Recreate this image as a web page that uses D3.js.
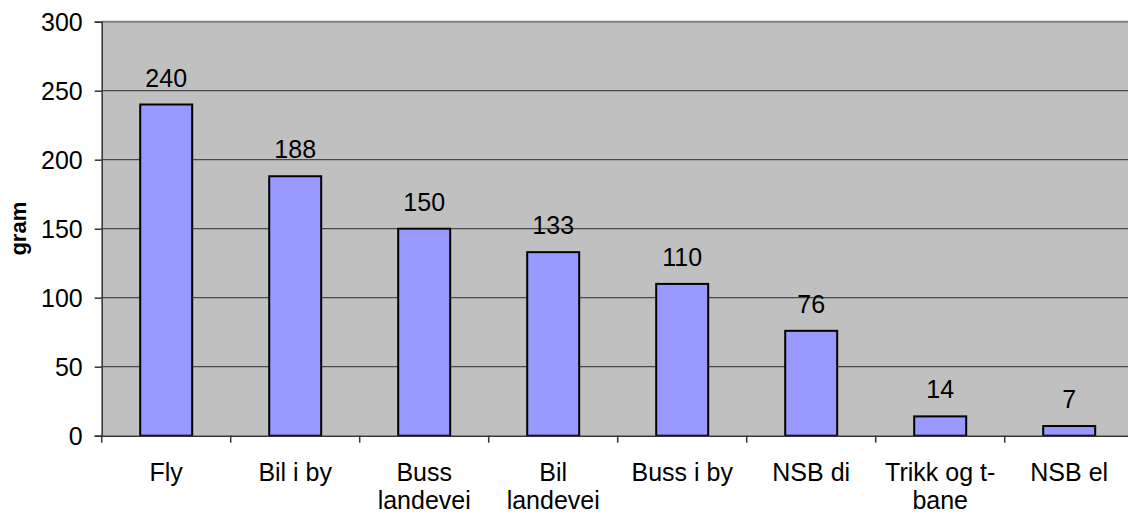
<!DOCTYPE html>
<html><head><meta charset="utf-8">
<script src="https://cdn.jsdelivr.net/npm/d3@7"></script>
<style>html,body{margin:0;padding:0;background:#fff;overflow:hidden}</style>
</head><body>
<svg id="chart" width="1128" height="515"></svg>
<script>
const categories = ["Fly","Bil i by","Buss\nlandevei","Bil\nlandevei","Buss i by","NSB di","Trikk og t-\nbane","NSB el"];
const values = [240,188,150,133,110,76,14,7];
const yTicks = [0,50,100,150,200,250,300];
const yTitle = "gram";

const svg = d3.select("#chart");
const pL = 101.7, pR = 1133.7, pT = 21.7, pB = 435.7;
const font = "'Liberation Sans', Arial, sans-serif";
const fs = 25;

const x = d3.scaleBand().domain(categories).range([pL, pR]).padding(0);
const y = d3.scaleLinear().domain([0,300]).range([pB, pT]);

// plot background
svg.append("rect").attr("x", pL).attr("y", pT).attr("width", pR-pL).attr("height", pB-pT)
  .attr("fill", "#c0c0c0");
// top border
svg.append("line").attr("x1", pL).attr("x2", pR).attr("y1", pT).attr("y2", pT)
  .attr("stroke", "#808080").attr("stroke-width", 2);

// gridlines
svg.append("g").selectAll("line").data(yTicks.filter(d => d > 0 && d < 300)).join("line")
  .attr("x1", pL).attr("x2", pR).attr("y1", d => y(d)).attr("y2", d => y(d))
  .attr("stroke", "#4a4a4a").attr("stroke-width", 1.2);

// bars
const bw = x.bandwidth() * 0.403;
svg.append("g").selectAll("rect").data(values).join("rect")
  .attr("x", (d,i) => x(categories[i]) + x.bandwidth()/2 - bw/2)
  .attr("y", d => y(d))
  .attr("width", bw)
  .attr("height", d => y(0) - y(d))
  .attr("fill", "#9999ff").attr("stroke", "#000").attr("stroke-width", 2);

// value labels
svg.append("g").selectAll("text").data(values).join("text")
  .attr("x", (d,i) => x(categories[i]) + x.bandwidth()/2)
  .attr("y", d => y(d) - 18)
  .attr("text-anchor", "middle")
  .attr("font-family", font).attr("font-size", fs).attr("fill", "#000")
  .text(d => d);

// y axis
const yAxis = d3.axisLeft(y).tickValues(yTicks).tickSize(7).tickPadding(12);
const gy = svg.append("g").attr("transform", `translate(${pL},0)`).call(yAxis);
gy.select(".domain").attr("stroke", "#333").attr("stroke-width", 1.5);
gy.selectAll(".tick line").attr("stroke", "#333").attr("stroke-width", 1.5);
gy.selectAll(".tick text").attr("font-family", font).attr("font-size", fs).attr("fill", "#000")
  .attr("dy", "0.36em");

// x axis
const xAxis = d3.axisBottom(x).tickSize(0).tickFormat(() => "");
const gx = svg.append("g").attr("transform", `translate(0,${pB})`).call(xAxis);
gx.select(".domain").attr("stroke", "#333").attr("stroke-width", 1.5);
// category separator ticks
svg.append("g").selectAll("line").data(categories).join("line")
  .attr("x1", d => x(d)).attr("x2", d => x(d))
  .attr("y1", pB).attr("y2", pB + 7)
  .attr("stroke", "#333").attr("stroke-width", 1.5);

// category labels
const lab = svg.append("g").selectAll("text").data(categories).join("text")
  .attr("x", d => x(d) + x.bandwidth()/2)
  .attr("y", pB + 45.5)
  .attr("text-anchor", "middle")
  .attr("font-family", font).attr("font-size", fs).attr("fill", "#000");
lab.each(function(d) {
  const t = d3.select(this);
  d.split("\n").forEach((ln, i) => {
    t.append("tspan").attr("x", x(d) + x.bandwidth()/2).attr("dy", i === 0 ? 0 : 27.5).text(ln);
  });
});

// y title
svg.append("text")
  .attr("transform", `translate(26,${(pT+pB)/2}) rotate(-90)`)
  .attr("text-anchor", "middle")
  .attr("font-family", font).attr("font-size", 22).attr("font-weight", "bold").attr("fill", "#000")
  .text(yTitle);
</script>
</body></html>
